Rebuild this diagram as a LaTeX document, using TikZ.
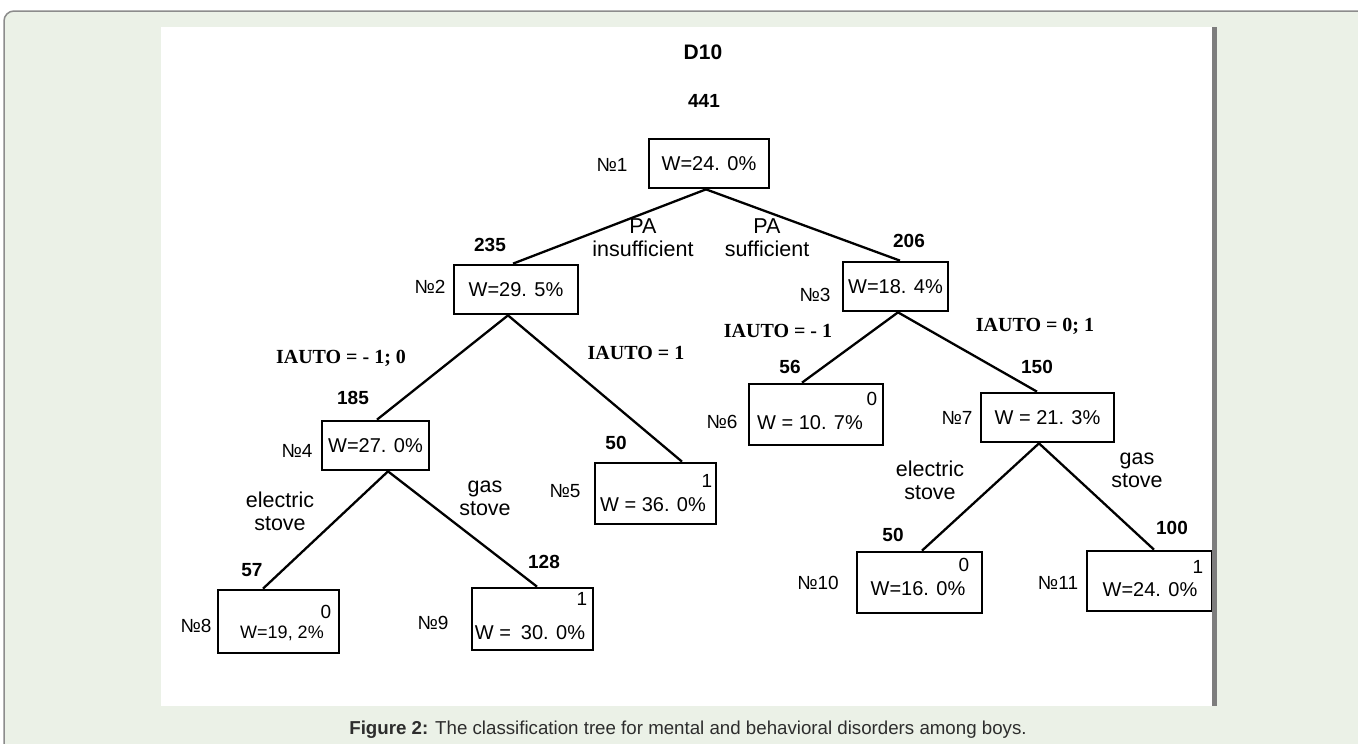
\documentclass[tikz,border=0pt]{standalone}
\usepackage{fontspec}
\setmainfont{Liberation Sans}
\newfontfamily\rulefont{Liberation Serif}
\usepackage{tikz}
\usetikzlibrary{positioning}
\definecolor{pageGreen}{RGB}{235,241,231}
\definecolor{frameGray}{RGB}{140,140,140}
\definecolor{barGray}{RGB}{125,125,125}
\definecolor{capGray}{RGB}{45,45,45}

\begin{document}
\begin{tikzpicture}[x=1pt,y=-1pt,
    box/.style={draw, line width=2.7pt, inner sep=0pt, font=\fontsize{20}{22}\selectfont},
    edge/.style={line width=2.3pt},
    wtxt/.style={inner sep=0pt, font=\fontsize{20}{22}\selectfont},
    cls/.style={inner sep=0pt, font=\fontsize{19}{22}\selectfont},
    nolabel/.style={inner sep=0pt, font=\fontsize{19}{22}\selectfont},
    cnt/.style={inner sep=0pt, font=\fontsize{19}{22}\selectfont\bfseries},
    cond/.style={inner sep=0pt, align=center, font=\fontsize{21.5}{23}\selectfont},
    iauto/.style={inner sep=0pt, font=\fontsize{20}{22}\selectfont\rulefont\bfseries}]
  \useasboundingbox (0,0) rectangle (1358,744);
  \fill[white] (0,0) rectangle (1358,744);
  \fill[pageGreen] (4,744) [rounded corners=10pt] -- (4,11) [sharp corners] -- (1358,11) -- (1358,744) -- cycle;
  \draw[frameGray, line width=1.5pt] (4,744) [rounded corners=10pt] -- (4,11) [sharp corners] -- (1358,11);
  \fill[white] (161,27) rectangle (1212,706);

  \node[inner sep=0pt, font=\fontsize{21}{24}\selectfont\bfseries] (title) at (703,52) {D10};

  \node[box, minimum width=120pt, minimum height=49pt] (n1) at (709,163.5) {W=24. 0\%};
  \node[box, minimum width=124pt, minimum height=49pt] (n2) at (516,289.5) {W=29. 5\%};
  \node[box, minimum width=105pt, minimum height=49pt] (n3) at (895.5,286.5) {W=18. 4\%};
  \node[box, minimum width=107pt, minimum height=49pt] (n4) at (375.5,445.5) {W=27. 0\%};
  \node[box, minimum width=121pt, minimum height=61pt] (n5) at (655.5,493.5) {};
  \node[box, minimum width=134pt, minimum height=61pt] (n6) at (816,414.5) {};
  \node[box, minimum width=133pt, minimum height=49pt] (n7) at (1047.5,417.5) {W = 21. 3\%};
  \node[box, minimum width=121pt, minimum height=63pt] (n8) at (278.5,621.5) {};
  \node[box, minimum width=121pt, minimum height=62pt] (n9) at (532.5,619) {};
  \node[box, minimum width=125pt, minimum height=61pt] (n10) at (919.5,582.5) {};
  \node[box, minimum width=125pt, minimum height=60pt] (n11) at (1149.5,581) {};

  \node[wtxt] (w5) at (653,505) {W = 36. 0\%};
  \node[wtxt] (w6) at (810,423) {W = 10. 7\%};
  \node[wtxt, font=\fontsize{18}{20}\selectfont] (w8) at (282,633) {W=19, 2\%};
  \node[wtxt] (w9) at (530,633) {W =\enspace 30. 0\%};
  \node[wtxt] (w10) at (918,589) {W=16. 0\%};
  \node[wtxt] (w11) at (1150,590) {W=24. 0\%};

  \node[cls] (c5) at (707,481) {1};
  \node[cls] (c6) at (872,399) {0};
  \node[cls] (c8) at (326,612) {0};
  \node[cls] (c9) at (582,599) {1};
  \node[cls] (c10) at (964,565) {0};
  \node[cls] (c11) at (1198,567) {1};

  \node[nolabel] (k1) at (612,165) {№1};
  \node[nolabel] (k2) at (430,287) {№2};
  \node[nolabel] (k3) at (815,295) {№3};
  \node[nolabel] (k4) at (297,451) {№4};
  \node[nolabel] (k5) at (565,491) {№5};
  \node[nolabel] (k6) at (722,422) {№6};
  \node[nolabel] (k7) at (957,418) {№7};
  \node[nolabel] (k8) at (196,626) {№8};
  \node[nolabel] (k9) at (433,623) {№9};
  \node[nolabel] (k10) at (818,583) {№10};
  \node[nolabel] (k11) at (1058,583) {№11};

  \node[cnt] (s1) at (704,101) {441};
  \node[cnt] (s2) at (490,245) {235};
  \node[cnt] (s3) at (909,241) {206};
  \node[cnt] (s4) at (353,398) {185};
  \node[cnt] (s5) at (616,443) {50};
  \node[cnt] (s6) at (790,367) {56};
  \node[cnt] (s7) at (1037,367) {150};
  \node[cnt] (s8) at (252,570) {57};
  \node[cnt] (s9) at (544,562) {128};
  \node[cnt] (s10) at (893,535) {50};
  \node[cnt] (s11) at (1172,528) {100};

  \node[cond] (pa1) at (643,238) {PA\\insufficient};
  \node[cond] (pa2) at (767,238) {PA\\sufficient};
  \node[cond] (st1) at (280,511) {electric\\stove};
  \node[cond] (st2) at (485,498) {gas\\stove};
  \node[cond] (st3) at (930,480) {electric\\stove};
  \node[cond] (st4) at (1137,470) {gas\\stove};
  \node[iauto] (ia1) at (341,358) {IAUTO = - 1; 0};
  \node[iauto] (ia2) at (636,353) {IAUTO = 1};
  \node[iauto] (ia3) at (778,331) {IAUTO = - 1};
  \node[iauto] (ia4) at (1035,326) {IAUTO = 0; 1};

  \draw[edge] ([xshift=-3pt]n1.south) -- ([xshift=-3pt]n2.north);
  \draw[edge] ([xshift=-3pt]n1.south) -- ([xshift=4.5pt]n3.north);
  \draw[edge] ([xshift=-8pt]n2.south) -- ([xshift=1.5pt]n4.north);
  \draw[edge] ([xshift=-8pt]n2.south) -- ([xshift=26.5pt]n5.north);
  \draw[edge] ([xshift=2.5pt]n3.south) -- ([xshift=-14pt]n6.north);
  \draw[edge] ([xshift=2.5pt]n3.south) -- ([xshift=-10.5pt]n7.north);
  \draw[edge] ([xshift=12.5pt]n4.south) -- ([xshift=-15.5pt]n8.north);
  \draw[edge] ([xshift=12.5pt]n4.south) -- ([xshift=4.5pt]n9.north);
  \draw[edge] ([xshift=-8.5pt]n7.south) -- ([xshift=2.5pt]n10.north);
  \draw[edge] ([xshift=-8.5pt]n7.south) -- ([xshift=4.5pt]n11.north);

  \fill[barGray] (1212,27) rectangle (1217,706);
  \node[inner sep=0pt, text=capGray, font=\fontsize{18.7}{20}\selectfont] (cap) at (688,730)
    {\textbf{Figure 2:} The classification tree for mental and behavioral disorders among boys.};
\end{tikzpicture}
\end{document}
